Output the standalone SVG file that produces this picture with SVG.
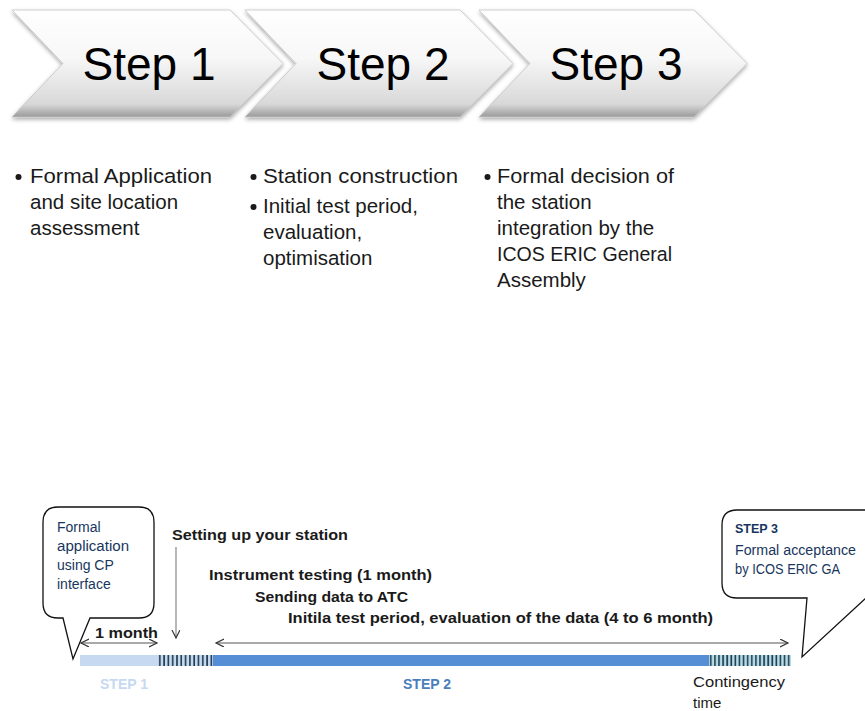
<svg xmlns="http://www.w3.org/2000/svg" width="865" height="711" viewBox="0 0 865 711">
<defs>
<linearGradient id="chev" x1="0" y1="0" x2="0" y2="1">
<stop offset="0" stop-color="#ffffff"/>
<stop offset="0.45" stop-color="#f7f7f7"/>
<stop offset="0.88" stop-color="#d8d8d8"/>
<stop offset="1" stop-color="#9a9a9a"/>
</linearGradient>
<filter id="sh" x="-10%" y="-10%" width="120%" height="130%">
<feGaussianBlur in="SourceAlpha" stdDeviation="2"/>
<feOffset dx="0" dy="2" result="b"/>
<feComponentTransfer><feFuncA type="linear" slope="0.35"/></feComponentTransfer>
<feMerge><feMergeNode/><feMergeNode in="SourceGraphic"/></feMerge>
</filter>
<pattern id="hatchA" width="4.3" height="11" patternUnits="userSpaceOnUse" x="158" y="655">
<rect width="4.3" height="11" fill="#c6d9f1"/>
<rect x="1" width="1.6" height="11" fill="#1f3b4d"/>
</pattern>
<pattern id="hatchB" width="4.1" height="11" patternUnits="userSpaceOnUse" x="709" y="655">
<rect width="4.1" height="11" fill="#b7dde8"/>
<rect x="1" width="1.6" height="11" fill="#1f3b4d"/>
</pattern>
<marker id="ah" markerWidth="10" markerHeight="10" refX="8" refY="4" orient="auto-start-reverse" markerUnits="userSpaceOnUse">
<path d="M0,0 L8,4 L0,8" fill="none" stroke="#333" stroke-width="1.2"/>
</marker>
</defs>
<style>
.chev{fill:url(#chev);stroke:#c4c4c4;stroke-width:0.8;filter:url(#sh)}
.big{font-family:"Liberation Sans",Arial,sans-serif;font-size:46px;fill:#000;text-anchor:middle}
.bul{font-family:"Liberation Sans",Arial,sans-serif;font-size:20.5px;fill:#1a1a1a}
.lbl{font-family:"Liberation Sans",Arial,sans-serif;font-size:14.5px;font-weight:bold;fill:#1a1a1a}
.call{fill:#fff;stroke:#111;stroke-width:1.3}
.ct{font-family:"Liberation Sans",Arial,sans-serif;font-size:14px;fill:#17365d}
.conn{stroke:#555;stroke-width:1.2;fill:none}
</style>

<g id="step1">
<path class="chev" d="M12,10 H230 L283,63.5 L230,117 H12 L63,63.5 Z"/>
<text class="big" x="149" y="80">Step 1</text>
</g>
<g id="step2">
<path class="chev" d="M245,10 H460 L513,63.5 L460,117 H245 L296,63.5 Z"/>
<text class="big" x="383" y="80">Step 2</text>
</g>
<g id="step3">
<path class="chev" d="M479,10 H694 L747,63.5 L694,117 H479 L530,63.5 Z"/>
<text class="big" x="616" y="80">Step 3</text>
</g>

<g id="bullets1">
<circle cx="18.5" cy="177" r="3" fill="#1a1a1a"/>
<text class="bul" x="30" y="183" textLength="182" lengthAdjust="spacingAndGlyphs">Formal Application</text>
<text class="bul" x="30" y="209">and site location</text>
<text class="bul" x="30" y="235">assessment</text>
</g>
<g id="bullets2">
<circle cx="253.5" cy="177" r="3" fill="#1a1a1a"/>
<text class="bul" x="263" y="183" textLength="195" lengthAdjust="spacingAndGlyphs">Station construction</text>
<circle cx="253.5" cy="207" r="3" fill="#1a1a1a"/>
<text class="bul" x="263" y="213">Initial test period,</text>
<text class="bul" x="263" y="239">evaluation,</text>
<text class="bul" x="263" y="265">optimisation</text>
</g>
<g id="bullets3">
<circle cx="487.5" cy="177" r="3" fill="#1a1a1a"/>
<text class="bul" x="497" y="183" textLength="177" lengthAdjust="spacingAndGlyphs">Formal decision of</text>
<text class="bul" x="497" y="209">the station</text>
<text class="bul" x="497" y="235">integration by the</text>
<text class="bul" x="497" y="261" textLength="175" lengthAdjust="spacingAndGlyphs">ICOS ERIC General</text>
<text class="bul" x="497" y="287">Assembly</text>
</g>

<g id="timeline">
<rect x="80" y="655" width="78" height="11" fill="#c6d9f1"/>
<rect x="158" y="655" width="55" height="11" fill="url(#hatchA)"/>
<rect x="213" y="655" width="496" height="11" fill="#558ed5"/>
<rect x="709" y="655" width="82" height="11" fill="url(#hatchB)"/>
<text x="124" y="689" text-anchor="middle" font-family="Liberation Sans, Arial, sans-serif" font-size="14px" font-weight="bold" fill="#c6d9f1">STEP 1</text>
<text x="427" y="689" text-anchor="middle" font-family="Liberation Sans, Arial, sans-serif" font-size="14px" font-weight="bold" fill="#4a7ebb">STEP 2</text>
<text x="693" y="687" font-family="Liberation Sans, Arial, sans-serif" font-size="15px" fill="#1a1a1a" textLength="92" lengthAdjust="spacingAndGlyphs">Contingency</text>
<text x="693" y="708" font-family="Liberation Sans, Arial, sans-serif" font-size="15px" fill="#1a1a1a">time</text>
</g>

<g id="labels">
<text class="lbl" x="172" y="540" textLength="176" lengthAdjust="spacingAndGlyphs">Setting up your station</text>
<text class="lbl" x="209" y="580" textLength="223" lengthAdjust="spacingAndGlyphs">Instrument testing (1 month)</text>
<text class="lbl" x="255" y="602" textLength="153" lengthAdjust="spacingAndGlyphs">Sending data to ATC</text>
<text class="lbl" x="288" y="623" textLength="425" lengthAdjust="spacingAndGlyphs">Initila test period, evaluation of the data (4 to 6 month)</text>
<text class="lbl" x="95" y="638" textLength="63" lengthAdjust="spacingAndGlyphs">1 month</text>
</g>

<g id="callout1">
<path class="call" d="M58,507 H139 Q154,507 154,522 V603 Q154,618 139,618 H90 L73,659 L63,618 H58 Q43,618 43,603 V522 Q43,507 58,507 Z"/>
<text class="ct" x="57" y="532">Formal</text>
<text class="ct" x="57" y="551" textLength="72" lengthAdjust="spacingAndGlyphs">application</text>
<text class="ct" x="57" y="570">using CP</text>
<text class="ct" x="57" y="589">interface</text>
</g>

<g id="callout2">
<path class="call" d="M737,510 H880 V598 H866 L802,657 L807,598 H737 Q722,598 722,583 V525 Q722,510 737,510 Z"/>
<text x="735" y="533" font-family="Liberation Sans, Arial, sans-serif" font-size="12.5px" font-weight="bold" fill="#17365d">STEP 3</text>
<text class="ct" x="735" y="555" textLength="121" lengthAdjust="spacingAndGlyphs">Formal  acceptance</text>
<text class="ct" x="735" y="574" textLength="105" lengthAdjust="spacingAndGlyphs">by ICOS ERIC GA</text>
</g>

<g id="connectors">
<line class="conn" x1="81" y1="643" x2="157" y2="643" marker-start="url(#ah)" marker-end="url(#ah)"/>
<line class="conn" x1="216" y1="643" x2="788" y2="643" marker-start="url(#ah)" marker-end="url(#ah)"/>
<line x1="176" y1="547" x2="176" y2="638" stroke="#888" stroke-width="1.2" marker-end="url(#ah)"/>
</g>
</svg>
